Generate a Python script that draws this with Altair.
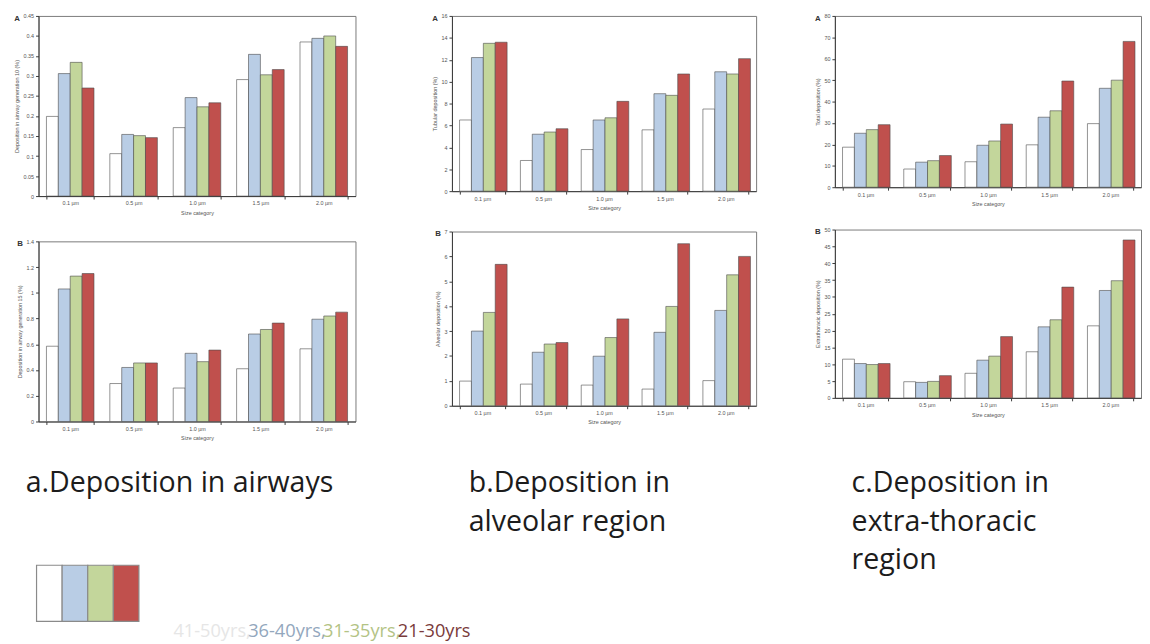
import altair as alt
import pandas as pd

# ---------------- data ----------------
categories = ["0.1 µm", "0.5 µm", "1.0 µm", "1.5 µm", "2.0 µm"]
series = ["41-50yrs", "36-40yrs", "31-35yrs", "21-30yrs"]
colors = ["#ffffff", "#b9cde5", "#c3d69b", "#c0504d"]

# a-A : deposition in airway generation 10 (%)
airway10_41_50 = [0.199, 0.106, 0.171, 0.291, 0.385]
airway10_36_40 = [0.306, 0.154, 0.246, 0.354, 0.394]
airway10_31_35 = [0.334, 0.151, 0.223, 0.303, 0.400]
airway10_21_30 = [0.270, 0.146, 0.233, 0.316, 0.374]

# a-B : deposition in airway generation 15 (%)
airway15_41_50 = [0.585, 0.295, 0.26, 0.41, 0.565]
airway15_36_40 = [1.03, 0.42, 0.53, 0.68, 0.795]
airway15_31_35 = [1.13, 0.455, 0.465, 0.715, 0.82]
airway15_21_30 = [1.15, 0.455, 0.555, 0.765, 0.85]

# b-A : tubular deposition (%)
tubular_41_50 = [6.5, 2.8, 3.8, 5.6, 7.5]
tubular_36_40 = [12.2, 5.2, 6.5, 8.9, 10.9]
tubular_31_35 = [13.5, 5.4, 6.7, 8.75, 10.7]
tubular_21_30 = [13.6, 5.7, 8.2, 10.7, 12.1]

# b-B : alveolar deposition (%)
alveolar_41_50 = [0.99, 0.87, 0.83, 0.67, 1.01]
alveolar_36_40 = [3.0, 2.15, 1.99, 2.95, 3.83]
alveolar_31_35 = [3.75, 2.48, 2.74, 3.99, 5.26]
alveolar_21_30 = [5.68, 2.54, 3.49, 6.51, 6.0]

# c-A : total deposition (%)
total_41_50 = [18.7, 8.5, 11.9, 19.8, 29.7]
total_36_40 = [25.2, 11.7, 19.6, 32.7, 46.2]
total_31_35 = [26.9, 12.4, 21.6, 35.7, 50.0]
total_21_30 = [29.2, 14.8, 29.5, 49.6, 68.1]

# c-B : extrathoracic deposition (%)
extra_41_50 = [11.5, 4.8, 7.3, 13.7, 21.4]
extra_36_40 = [10.2, 4.6, 11.2, 21.1, 31.9]
extra_31_35 = [9.9, 4.9, 12.4, 23.2, 34.8]
extra_21_30 = [10.2, 6.6, 18.2, 32.9, 46.9]

y_ticks_airway10 = [0, 0.05, 0.1, 0.15, 0.2, 0.25, 0.3, 0.35, 0.4, 0.45]
y_ticks_airway15 = [0, 0.2, 0.4, 0.6, 0.8, 1, 1.2, 1.4]
y_ticks_tubular = [0, 2, 4, 6, 8, 10, 12, 14, 16]
y_ticks_alveolar = [0, 1, 2, 3, 4, 5, 6, 7]
y_ticks_total = [0, 10, 20, 30, 40, 50, 60, 70, 80]
y_ticks_extra = [0, 5, 10, 15, 20, 25, 30, 35, 40, 45, 50]

captions = [
    "a.Deposition in airways",
    "b.Deposition in\nalveolar region",
    "c.Deposition in\nextra-thoracic\nregion",
]
legend_colors_text = ["#e6e6e6", "#93a7bd", "#b3c385", "#7a3b3b"]
legend_labels = ["41-50yrs,", "36-40yrs,", "31-35yrs,", "21-30yrs"]

AX_FONT = "Liberation Sans"
CAP_FONT = "Open Sans"


def panel(vals, ticks, fmt, ytitle, letter, w, h):
    rows = []
    for s, arr in zip(series, vals):
        for c, v in zip(categories, arr):
            rows.append({"size": c, "group": s, "value": v})
    df = pd.DataFrame(rows)
    return (
        alt.Chart(df)
        .mark_bar(stroke="#4a4a4a", strokeWidth=0.6)
        .encode(
            x=alt.X(
                "size:N",
                sort=categories,
                scale=alt.Scale(paddingInner=0.25, paddingOuter=0.125),
                axis=alt.Axis(title="Size category", labelAngle=0, tickBand="extent"),
            ),
            xOffset=alt.XOffset(
                "group:N", sort=series, scale=alt.Scale(paddingInner=0, paddingOuter=0)
            ),
            y=alt.Y(
                "value:Q",
                scale=alt.Scale(domain=[ticks[0], ticks[-1]], nice=False),
                axis=alt.Axis(values=ticks, format=fmt, title=ytitle, grid=False),
            ),
            color=alt.Color(
                "group:N",
                sort=series,
                scale=alt.Scale(domain=series, range=colors),
                legend=None,
            ),
        )
        .properties(
            width=w,
            height=h,
            title=alt.TitleParams(
                text=letter,
                anchor="start",
                frame="bounds",
                offset=-9,
                fontSize=8,
                fontWeight="bold",
                font=AX_FONT,
                color="#333",
            ),
        )
    )


def caption_text(text, dx):
    return (
        alt.Chart(pd.DataFrame({"t": [text]}))
        .mark_text(
            align="left",
            baseline="top",
            fontSize=29,
            lineHeight=39,
            lineBreak="\n",
            font=CAP_FONT,
            color="#1c1c1c",
            dx=dx,
            dy=3,
        )
        .encode(text="t:N", x=alt.value(0), y=alt.value(0))
    )


WA, WB, WC = 322, 309, 311

aA = panel([airway10_41_50, airway10_36_40, airway10_31_35, airway10_21_30],
           y_ticks_airway10, "~g", "Deposition in airway generation 10 (%)", "A", WA, 183)
aB = panel([airway15_41_50, airway15_36_40, airway15_31_35, airway15_21_30],
           y_ticks_airway15, "~g", "Deposition in airway generation 15 (%)", "B", WA, 183)
bA = panel([tubular_41_50, tubular_36_40, tubular_31_35, tubular_21_30],
           y_ticks_tubular, "d", "Tubular deposition (%)", "A", WB, 178)
bB = panel([alveolar_41_50, alveolar_36_40, alveolar_31_35, alveolar_21_30],
           y_ticks_alveolar, "d", "Alveolar deposition (%)", "B", WB, 177)
cA = panel([total_41_50, total_36_40, total_31_35, total_21_30],
           y_ticks_total, "d", "Total deposition (%)", "A", WC, 174)
cB = panel([extra_41_50, extra_36_40, extra_31_35, extra_21_30],
           y_ticks_extra, "d", "Extrathoracic deposition (%)", "B", WC, 171)

colA = alt.vconcat(aA, aB, spacing=22)
colB = alt.vconcat(bA, bB, spacing=17)
colC = alt.vconcat(cA, cB, spacing=19)
panels = alt.hconcat(alt.hconcat(colA, colB, spacing=76), colC, spacing=58)

# legend (inside the first caption cell)
leg_df = pd.DataFrame({"group": series})
leg_bars = (
    alt.Chart(leg_df)
    .mark_bar(stroke="#8a8a8a", strokeWidth=1.2)
    .encode(
        x=alt.X("group:N", sort=series, axis=None,
                scale=alt.Scale(range=[-2, 102], paddingInner=0, paddingOuter=0)),
        y=alt.value(100),
        y2=alt.value(157),
        color=alt.Color("group:N", sort=series,
                        scale=alt.Scale(domain=series, range=colors), legend=None),
    )
)
txt_df = pd.DataFrame({"label": legend_labels, "tc": legend_colors_text})
leg_text = (
    alt.Chart(txt_df)
    .mark_text(align="left", baseline="middle", fontSize=18.5, font=CAP_FONT)
    .encode(
        x=alt.X("label:N", sort=legend_labels, axis=None,
                scale=alt.Scale(type="point", range=[137, 365], padding=0)),
        y=alt.value(167),
        text="label:N",
        color=alt.Color("tc:N", scale=None, legend=None),
    )
)
no_frame = alt.ViewBackground(stroke="transparent")
capA = (
    alt.layer(caption_text(captions[0], -13), leg_bars, leg_text)
    .resolve_scale(x="independent", color="independent")
    .properties(width=409, height=170, view=no_frame)
)
capB = caption_text(captions[1], 28).properties(width=388, height=170, view=no_frame)
capC = caption_text(captions[2], 29).properties(width=311, height=170, view=no_frame)
caps = alt.hconcat(capA, capB, capC, spacing=0, bounds="flush")

chart = (
    alt.vconcat(panels, caps, spacing=24)
    .properties(padding={"left": 5, "top": 0, "right": 0, "bottom": 0})
    .configure(background="white")
    .configure_view(stroke="#7a7a7a", strokeWidth=1)
    .configure_axis(
        labelFont=AX_FONT,
        titleFont=AX_FONT,
        labelFontSize=5.5,
        titleFontSize=5.5,
        titleFontWeight="normal",
        labelColor="#555",
        titleColor="#555",
        domainColor="#3a3a3a",
        tickColor="#3a3a3a",
        tickSize=3,
        labelPadding=2,
        titlePadding=4,
    )
)

chart.save("out.html", embed_options={"renderer": "svg", "actions": False})
